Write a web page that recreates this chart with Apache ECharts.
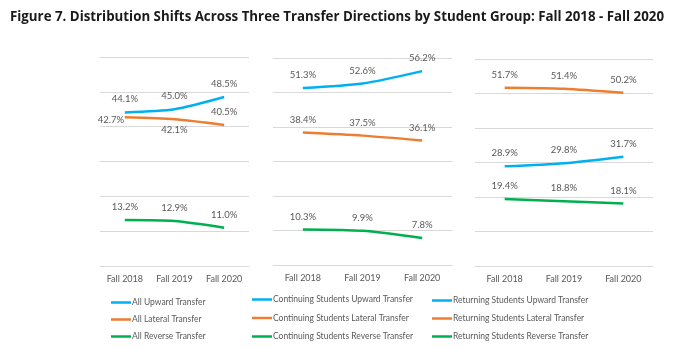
<!DOCTYPE html>
<html>
<head>
<meta charset="utf-8">
<script src="https://cdn.jsdelivr.net/npm/echarts@6/dist/echarts.min.js"></script>
<style>
  html, body { margin: 0; padding: 0; background: #ffffff; }
  #chart { width: 674px; height: 349px; }
</style>
</head>
<body>
<div id="chart"></div>
<script>
// Terms shown on each panel's x axis
const terms = ['Fall 2018', 'Fall 2019', 'Fall 2020'];

// Share of transfers (%) by direction, for all students
const allUpward = [44.1, 45.0, 48.5];
const allLateral = [42.7, 42.1, 40.5];
const allReverse = [13.2, 12.9, 11.0];

// Continuing students
const contUpward = [51.3, 52.6, 56.2];
const contLateral = [38.4, 37.5, 36.1];
const contReverse = [10.3, 9.9, 7.8];

// Returning students
const retUpward = [28.9, 29.8, 31.7];
const retLateral = [51.7, 51.4, 50.2];
const retReverse = [19.4, 18.8, 18.1];

const seriesNames = [
  ['All Upward Transfer', 'All Lateral Transfer', 'All Reverse Transfer'],
  ['Continuing Students Upward Transfer', 'Continuing Students Lateral Transfer', 'Continuing Students Reverse Transfer'],
  ['Returning Students Upward Transfer', 'Returning Students Lateral Transfer', 'Returning Students Reverse Transfer']
];
const panelValues = [
  [allUpward, allLateral, allReverse],
  [contUpward, contLateral, contReverse],
  [retUpward, retLateral, retReverse]
];

const colors = ['#00B0F0', '#ED7D31', '#00B050'];
const textColor = '#595959';
const gridColor = '#D9D9D9';
const font = 'Lato';

const grids = [
  { left: 100, width: 149, top: 57, height: 209 },
  { left: 273, width: 179, top: 58, height: 207 },
  { left: 475, width: 178, top: 59, height: 207 }
];

const legendPos = [
  { left: 111, top: 298, itemGap: 8 },
  { left: 252, top: 295, itemGap: 9.5 },
  { left: 432, top: 296, itemGap: 9 }
];

// Label placement tweaks for crowded points of the first panel
function labelFor(panel, s, i) {
  if (panel === 0 && s === 1 && i === 0) {
    return { position: 'top', distance: 8, offset: [-14, 16] };
  }
  if (panel === 0 && s === 1 && i === 1) {
    return { position: 'bottom', distance: 6 };
  }
  return null;
}

const series = [];
panelValues.forEach((vals, p) => {
  vals.forEach((arr, s) => {
    series.push({
      name: seriesNames[p][s],
      type: 'line',
      xAxisIndex: p,
      yAxisIndex: p,
      smooth: 0.25,
      symbol: 'circle',
      symbolSize: 0,
      showSymbol: true,
      lineStyle: { color: colors[s], width: 2.5 },
      itemStyle: { color: colors[s] },
      label: {
        show: true,
        position: 'top',
        distance: 8,
        color: textColor,
        fontFamily: font,
        fontSize: 9.5,
        formatter: (d) => Number(d.value).toFixed(1) + '%'
      },
      data: arr.map((v, i) => {
        const lb = labelFor(p, s, i);
        return lb ? { value: v, label: lb } : { value: v };
      })
    });
  });
});

const option = {
  backgroundColor: '#ffffff',
  animation: false,
  title: {
    text: 'Figure 7. Distribution Shifts Across Three Transfer Directions by Student Group: Fall 2018 - Fall 2020',
    left: 5,
    top: 6,
    textStyle: { fontFamily: 'Open Sans', fontWeight: 'bold', fontSize: 13.3, color: '#1a1a1a' }
  },
  grid: grids,
  xAxis: grids.map((g, i) => ({
    type: 'category',
    gridIndex: i,
    data: terms,
    boundaryGap: true,
    axisLine: { show: true, lineStyle: { color: gridColor, width: 1 } },
    axisTick: { show: false },
    axisLabel: { interval: 0, color: textColor, fontFamily: font, fontSize: 9, margin: 9 }
  })),
  yAxis: grids.map((g, i) => ({
    type: 'value',
    gridIndex: i,
    min: 0,
    max: 60,
    interval: 10,
    axisLine: { show: false },
    axisTick: { show: false },
    axisLabel: { show: false },
    splitLine: { show: true, lineStyle: { color: gridColor, width: 1 } }
  })),
  legend: legendPos.map((lp, i) => ({
    orient: 'vertical',
    left: lp.left,
    top: lp.top,
    padding: 0,
    itemGap: lp.itemGap,
    itemWidth: 20,
    itemHeight: 10,
    selectedMode: false,
    icon: 'path://M0,4 L20,4 L20,6.5 L0,6.5 Z',
    data: seriesNames[i],
    textStyle: { color: textColor, fontFamily: font, fontSize: 8.5, padding: [0, 0, 0, -4] }
  })),
  series: series
};

const chart = echarts.init(document.getElementById('chart'), null, { renderer: 'canvas' });
chart.setOption(option);
</script>
</body>
</html>
